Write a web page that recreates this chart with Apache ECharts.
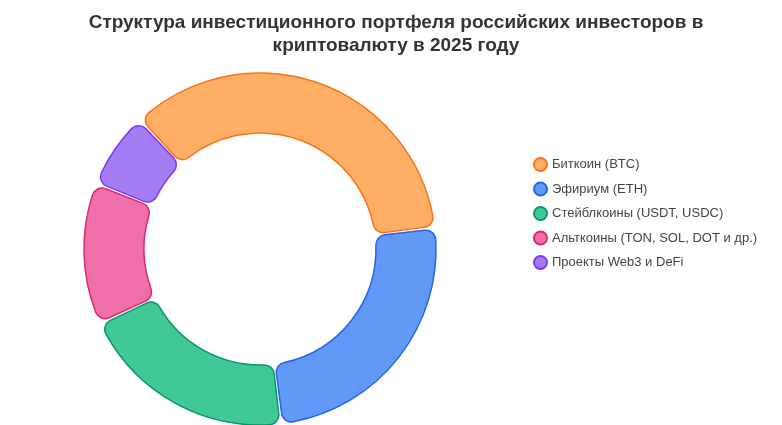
<!DOCTYPE html>
<html>
<head>
<meta charset="utf-8">
<script src="https://cdn.jsdelivr.net/npm/echarts@6/dist/echarts.min.js"></script>
<style>html,body{margin:0;padding:0;background:#fff}#chart{width:782px;height:425px}</style>
</head>
<body>
<div id="chart"></div>
<script>
// данные портфеля
var categories = ['Биткоин (BTC)', 'Эфириум (ETH)', 'Стейблкоины (USDT, USDC)', 'Альткоины (TON, SOL, DOT и др.)', 'Проекты Web3 и DeFi'];
var values = [35, 25, 20, 13, 7];
var fillColors = ['#FFAE66', '#6399F6', '#40C997', '#EF6FAB', '#A47CF4'];
var borderColors = ['#F97316', '#2563EB', '#059669', '#DB2777', '#7C3AED'];

var chart = echarts.init(document.getElementById('chart'));
var seriesData = [];
for (var i = 0; i < categories.length; i++) {
    seriesData.push({
        name: categories[i],
        value: values[i],
        itemStyle: { color: fillColors[i], borderColor: borderColors[i] }
    });
}
chart.setOption({
    title: {
        text: 'Структура инвестиционного портфеля российских инвесторов в\nкриптовалюту в 2025 году',
        left: 391, textAlign: 'center', top: 6,
        textStyle: { fontFamily: 'Liberation Sans, Arial', fontSize: 19, fontWeight: 'bold', color: '#333', lineHeight: 23 }
    },
    legend: {
        orient: 'vertical', left: 528, top: 152,
        icon: 'circle', itemWidth: 13, itemHeight: 13, itemGap: 9.5,
        textStyle: { fontFamily: 'Liberation Sans, Arial', fontSize: 13, color: '#444' },
        data: categories
    },
    series: [{
        type: 'pie',
        center: [260, 249],
        radius: [116, 176],
        startAngle: 133,
        padAngle: 1,
        label: { show: false },
        emphasis: { scale: false },
        itemStyle: { borderWidth: 1.5, borderRadius: 10 },
        data: seriesData
    }]
});
</script>
</body>
</html>
